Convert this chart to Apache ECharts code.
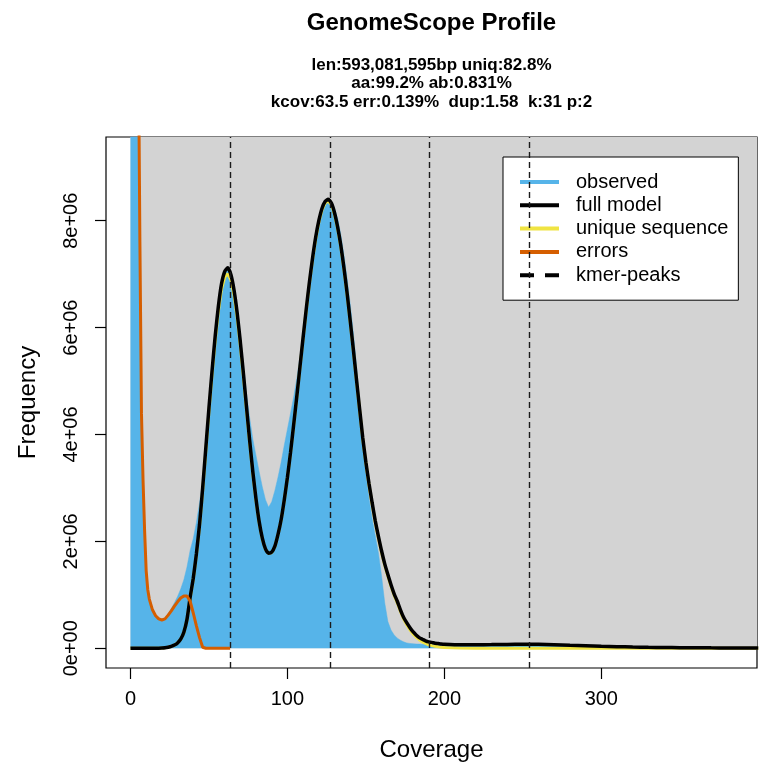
<!DOCTYPE html>
<html>
<head>
<meta charset="utf-8">
<title>GenomeScope Profile</title>
<script src="https://cdn.jsdelivr.net/npm/echarts@6/dist/echarts.min.js"></script>
<style>
  html, body { margin: 0; padding: 0; background: #fff; }
  #chart { width: 770px; height: 777px; }
</style>
</head>
<body>
<div id="chart"></div>
<script>
// coverage grid (k-mer multiplicity)
var coverage = [
  0, 1, 2, 3, 4, 5, 6, 7, 8, 9, 10, 11, 12,
  14, 16, 18, 20, 22, 24, 26, 28, 30, 32, 34, 36, 38, 40, 42, 44, 46, 48, 50,
  52, 54, 56, 58, 60, 62, 64, 66, 68, 70, 72, 74, 76, 78, 80, 82, 84, 86, 88, 90,
  92, 94, 96, 98, 100, 102, 104, 106, 108, 110, 112, 114, 116, 118, 120, 122, 124, 126, 128, 130,
  132, 134, 136, 138, 140, 142, 144, 146, 148, 150, 152, 154, 156, 158, 160, 162, 164, 166, 168, 170,
  172, 174, 176, 178, 180, 182, 184, 186, 188, 190, 192, 194, 196, 198, 200,
  210, 220, 230, 240, 250, 260, 270, 280, 290, 300, 310, 320, 330, 340, 350, 360, 370, 380, 390, 400
];

// frequencies, in millions
var observed = [
  200, 150, 60, 30, 17.5, 11.8, 7.7, 4.5, 3.2, 2.25, 1.5, 1.15, 0.95,
  0.74, 0.63, 0.57, 0.54, 0.56, 0.64, 0.74, 0.85, 0.97, 1.11, 1.28, 1.52, 1.83, 2.05, 2.35, 2.72, 3.12, 3.80, 4.52,
  5.22, 5.85, 6.38, 6.78, 7.0, 7.08, 7.0, 6.75, 6.35, 5.85, 5.3, 4.75, 4.3, 3.9, 3.6, 3.3, 3.02, 2.78, 2.64, 2.74,
  2.95, 3.2, 3.48, 3.8, 4.1, 4.4, 4.7, 5.05, 5.45, 5.85, 6.28, 6.72, 7.12, 7.5, 7.85, 8.12, 8.3, 8.38, 8.36, 8.24,
  8.04, 7.74, 7.36, 6.92, 6.44, 5.9, 5.28, 4.55, 3.78, 3.25, 2.8, 2.42, 2.1, 1.78, 1.35, 0.85, 0.5, 0.34, 0.25, 0.19,
  0.15, 0.12, 0.1, 0.09, 0.085, 0.08, 0.078, 0.076, 0.075, 0.074, 0.073, 0.072, 0.071, 0.07, 0.07,
  0.07, 0.072, 0.075, 0.078, 0.08, 0.078, 0.072, 0.062, 0.052, 0.042, 0.034, 0.027, 0.021, 0.017, 0.013, 0.011, 0.009, 0.008, 0.006, 0.005
];

var fullModel = [
  0, 0, 0, 0, 0, 0, 0, 0, 0, 0, 0, 0, 0,
  0, 0.001, 0.002, 0.005, 0.01, 0.02, 0.035, 0.06, 0.10, 0.17, 0.30, 0.54, 0.95, 1.31, 1.77, 2.32, 3.00, 3.75, 4.50,
  5.20, 5.85, 6.40, 6.82, 7.05, 7.12, 6.99, 6.70, 6.27, 5.73, 5.13, 4.49, 3.87, 3.29, 2.79, 2.37, 2.06, 1.86, 1.78, 1.80,
  1.91, 2.13, 2.41, 2.78, 3.20, 3.67, 4.19, 4.72, 5.27, 5.82, 6.35, 6.85, 7.30, 7.69, 8.00, 8.23, 8.36, 8.40, 8.33, 8.15,
  7.88, 7.54, 7.12, 6.65, 6.13, 5.59, 5.03, 4.48, 3.94, 3.48, 3.08, 2.72, 2.38, 2.09, 1.82, 1.58, 1.38, 1.19, 1.02, 0.88,
  0.72, 0.58, 0.48, 0.39, 0.31, 0.25, 0.20, 0.17, 0.14, 0.12, 0.11, 0.095, 0.088, 0.08, 0.075,
  0.065, 0.066, 0.069, 0.073, 0.075, 0.074, 0.068, 0.058, 0.048, 0.038, 0.030, 0.024, 0.019, 0.015, 0.012, 0.010, 0.008, 0.007, 0.005, 0.004
];

var uniqueSeq = [
  0, 0, 0, 0, 0, 0, 0, 0, 0, 0, 0, 0, 0,
  0, 0.001, 0.002, 0.005, 0.01, 0.02, 0.035, 0.06, 0.10, 0.17, 0.29, 0.53, 0.93, 1.29, 1.74, 2.28, 2.95, 3.69, 4.43,
  5.12, 5.76, 6.30, 6.72, 6.94, 7.01, 6.89, 6.60, 6.18, 5.65, 5.06, 4.43, 3.82, 3.25, 2.76, 2.35, 2.04, 1.85, 1.77, 1.79,
  1.90, 2.12, 2.40, 2.77, 3.19, 3.66, 4.17, 4.70, 5.25, 5.80, 6.32, 6.82, 7.27, 7.66, 7.97, 8.20, 8.33, 8.37, 8.30, 8.12,
  7.85, 7.51, 7.09, 6.62, 6.10, 5.56, 5.00, 4.45, 3.91, 3.46, 3.05, 2.69, 2.35, 2.06, 1.79, 1.55, 1.35, 1.16, 0.99, 0.85,
  0.69, 0.55, 0.44, 0.35, 0.27, 0.21, 0.16, 0.12, 0.09, 0.065, 0.05, 0.037, 0.027, 0.02, 0.014,
  0.004, 0.002, 0.001, 0.001, 0.001, 0.001, 0.001, 0, 0, 0, 0, 0, 0, 0, 0, 0, 0, 0, 0, 0
];

var errCoverage = [1, 2, 3, 4, 5, 6, 7, 8, 9, 10, 11, 12, 14, 16, 18, 20, 22, 24, 26, 28, 30, 32, 34, 36, 38, 40, 42, 44, 46, 48, 52, 56, 60, 63.5];
var errors = [120, 50, 28, 17, 11.5, 7.6, 4.4, 3.15, 2.2, 1.45, 1.1, 0.92, 0.72, 0.61, 0.55, 0.53, 0.55, 0.62, 0.70, 0.79, 0.87, 0.94, 0.98, 0.98, 0.88, 0.66, 0.42, 0.20, 0.02, 0, 0, 0, 0, 0];

var kmerPeaks = [63.5, 127, 190.5, 254];

var xTicks = [0, 100, 200, 300];
var yTicks = [0, 2, 4, 6, 8];
var yTickLabels = ['0e+00', '2e+06', '4e+06', '6e+06', '8e+06'];

var titleText = 'GenomeScope Profile';
var subtitleLines = [
  'len:593,081,595bp uniq:82.8%',
  'aa:99.2% ab:0.831%',
  'kcov:63.5 err:0.139%  dup:1.58  k:31 p:2'
];

// plot ranges (R style 4% padding)
var xMin = -15.6, xMax = 399.2;
var yMin = -0.369, yMax = 9.567;

var FONT = '"Liberation Sans", Arial, Helvetica, sans-serif';

function pairs(xs, ys) {
  var out = [];
  for (var i = 0; i < xs.length; i++) out.push([xs[i], ys[i]]);
  return out;
}

var chart = echarts.init(document.getElementById('chart'), null, { renderer: 'canvas' });

var option = {
  animation: false,
  backgroundColor: '#ffffff',
  textStyle: { fontFamily: FONT, color: '#000' },
  title: [
    {
      text: titleText,
      left: 431.5,
      top: 11,
      padding: 0,
      textAlign: 'center',
      textStyle: { fontSize: 24, fontWeight: 'bold', color: '#000', fontFamily: FONT }
    },
    {
      text: subtitleLines.join('\n'),
      left: 431.5,
      top: 56,
      padding: 0,
      textAlign: 'center',
      textStyle: { fontSize: 17, fontWeight: 'bold', lineHeight: 18.5, color: '#000', fontFamily: FONT }
    }
  ],
  legend: {
    orient: 'vertical',
    left: 503,
    top: 157,
    padding: [15, 10, 15, 17],
    backgroundColor: '#ffffff',
    borderColor: '#000',
    borderWidth: 1,
    borderRadius: 0,
    itemWidth: 39,
    itemHeight: 4,
    itemGap: 3.3,
    selectedMode: false,
    textStyle: { fontSize: 20, lineHeight: 20, color: '#000', fontFamily: FONT, padding: [0, 0, 0, 12] },
    data: [
      { name: 'observed', icon: 'rect' },
      { name: 'full model', icon: 'rect' },
      { name: 'unique sequence', icon: 'rect' },
      { name: 'errors', icon: 'rect' },
      { name: 'kmer-peaks', icon: 'path://M0,0H14V4H0Z M25,0H39V4H25Z' }
    ]
  },
  grid: {
    left: 106,
    right: 13,
    top: 137,
    bottom: 109,
    show: true,
    borderColor: '#000',
    borderWidth: 1.2,
    backgroundColor: 'transparent'
  },
  xAxis: {
    type: 'value',
    min: xMin,
    max: xMax,
    name: 'Coverage',
    nameLocation: 'middle',
    nameGap: 70,
    nameTextStyle: { fontSize: 24, color: '#000', fontFamily: FONT },
    axisLine: { show: false, onZero: false },
    axisTick: { show: true, inside: false, length: 11, customValues: xTicks, lineStyle: { color: '#000', width: 1.2 } },
    axisLabel: { show: true, margin: 21, fontSize: 20, color: '#000', fontFamily: FONT, customValues: xTicks },
    splitLine: { show: false }
  },
  yAxis: {
    type: 'value',
    min: yMin,
    max: yMax,
    name: 'Frequency',
    nameLocation: 'middle',
    nameRotate: 90,
    nameGap: 66,
    nameTextStyle: { fontSize: 24, color: '#000', fontFamily: FONT },
    axisLine: { show: false, onZero: false },
    axisTick: { show: true, inside: false, length: 11, customValues: yTicks, lineStyle: { color: '#000', width: 1.2 } },
    axisLabel: {
      show: true,
      rotate: 90,
      margin: 25,
      fontSize: 20,
      color: '#000',
      fontFamily: FONT,
      customValues: yTicks,
      formatter: function (v) {
        var i = yTicks.indexOf(v);
        return i >= 0 ? yTickLabels[i] : '';
      }
    },
    splitLine: { show: false }
  },
  series: [
    {
      // gray plotting background from the origin
      name: 'background',
      type: 'line',
      data: [],
      z: 1,
      silent: true,
      markArea: {
        silent: true,
        itemStyle: { color: '#D3D3D3' },
        data: [[{ coord: [0, 0] }, { coord: [xMax, yMax] }]]
      }
    },
    {
      name: 'observed',
      type: 'line',
      z: 2,
      data: pairs(coverage, observed),
      showSymbol: false,
      symbol: 'none',
      color: '#56B4E9',
      lineStyle: { width: 0.5, color: '#56B4E9' },
      areaStyle: { color: '#56B4E9', opacity: 1 },
      clip: true
    },
    {
      name: 'unique sequence',
      type: 'line',
      z: 3,
      data: pairs(coverage, uniqueSeq),
      showSymbol: false,
      symbol: 'none',
      color: '#F0E442',
      lineStyle: { width: 3, color: '#F0E442' },
      clip: true
    },
    {
      name: 'full model',
      type: 'line',
      z: 4,
      data: pairs(coverage, fullModel),
      showSymbol: false,
      symbol: 'none',
      smooth: 0.2,
      color: '#000000',
      lineStyle: { width: 3.5, color: '#000000' },
      clip: true
    },
    {
      name: 'errors',
      type: 'line',
      z: 5,
      data: pairs(errCoverage, errors),
      showSymbol: false,
      symbol: 'none',
      color: '#D55E00',
      lineStyle: { width: 3, color: '#D55E00' },
      clip: true
    },
    {
      name: 'kmer-peaks',
      type: 'line',
      z: 6,
      data: [],
      color: '#000000',
      lineStyle: { color: '#000000', type: 'dashed' },
      markLine: {
        silent: true,
        symbol: 'none',
        label: { show: false },
        lineStyle: { color: '#1a1a1a', width: 1.4, type: [6, 4] },
        data: kmerPeaks.map(function (p) { return { xAxis: p }; })
      }
    }
  ]
};

chart.setOption(option);
</script>
</body>
</html>
